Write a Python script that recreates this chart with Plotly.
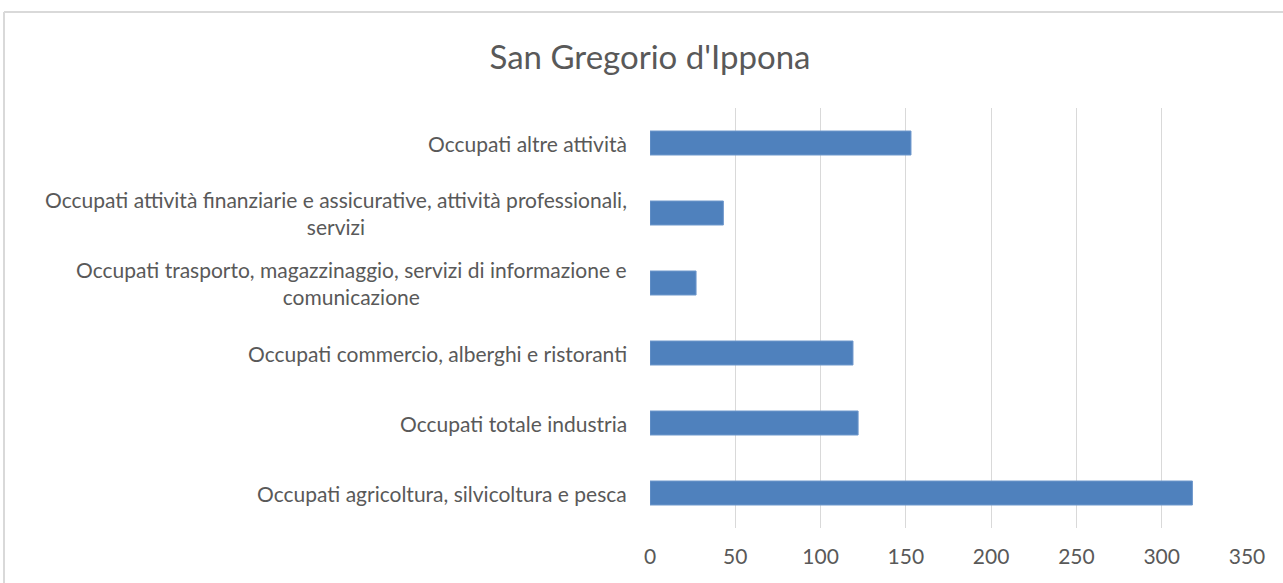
import plotly.graph_objects as go

categories = [
    "Occupati agricoltura, silvicoltura e pesca",
    "Occupati totale industria",
    "Occupati commercio, alberghi e ristoranti",
    "Occupati trasporto, magazzinaggio, servizi di informazione e<br>comunicazione",
    "Occupati attività finanziarie e assicurative, attività professionali,<br>servizi",
    "Occupati altre attività",
]
values = [318, 122, 119, 27, 43, 153]
x_ticks = [0, 50, 100, 150, 200, 250, 300, 350]
title = "San Gregorio d'Ippona"

W, H = 1283, 583
L, R, T, B = 650, 36, 108, 55
pw, ph = W - L - R, H - T - B

FONT = "Lato"
GREY = "#595959"
FS = 21

fig = go.Figure()
fig.add_trace(go.Bar(
    x=values, y=categories, orientation="h",
    marker=dict(color="#4F81BD", line=dict(color="#6E98CC", width=1)),
    hoverinfo="x+y",
))

annotations = [
    dict(xref="paper", yref="y", x=0, y=cat, text=cat, showarrow=False,
         xanchor="right", yanchor="middle", align="center", xshift=-21,
         font=dict(family=FONT, size=FS, color=GREY))
    for cat in categories
]

fig.update_layout(
    width=W, height=H,
    margin=dict(l=L, r=R, t=T, b=B, pad=0),
    paper_bgcolor="white", plot_bgcolor="white",
    title=dict(text=title, x=650 / W, xanchor="center", y=1 - 57 / H, yanchor="middle",
               font=dict(family=FONT, size=33, color=GREY)),
    bargap=0.657,
    showlegend=False,
    annotations=annotations,
    xaxis=dict(range=[0, 350], tickvals=x_ticks, showgrid=True, gridcolor="#D9D9D9", gridwidth=1,
               zeroline=False, showline=False, ticks="", ticklabelstandoff=14,
               tickfont=dict(family=FONT, size=FS, color=GREY), fixedrange=True),
    yaxis=dict(showticklabels=False, showgrid=False, zeroline=False, showline=False, ticks="",
               categoryorder="array", categoryarray=categories, fixedrange=True),
    shapes=[
        dict(type="line", xref="paper", yref="paper",
             x0=(4 - L) / pw, x1=(W + 10 - L) / pw, y0=(H - B - 12) / ph, y1=(H - B - 12) / ph,
             line=dict(color="#D9D9D9", width=2)),
        dict(type="line", xref="paper", yref="paper",
             x0=(4 - L) / pw, x1=(4 - L) / pw, y0=(H - B - 12) / ph, y1=(H - B - H - 10) / ph,
             line=dict(color="#D9D9D9", width=2)),
    ],
)

fig.write_html("out.html", config={"displayModeBar": False},
               post_script="document.body.style.margin='0';")
